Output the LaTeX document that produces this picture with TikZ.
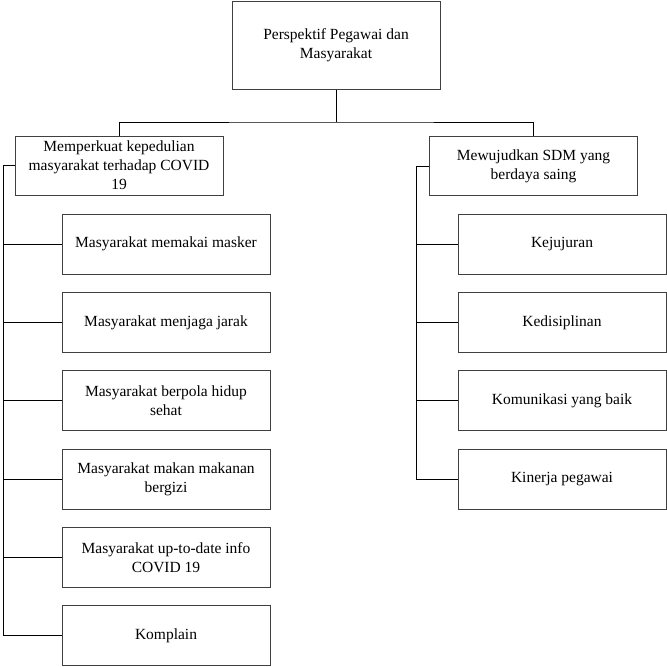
\documentclass[tikz,border=0pt]{standalone}
\usepackage{fontspec}
\setmainfont{Liberation Serif}
\usetikzlibrary{positioning}

\tikzset{
    boxnode/.style={draw=black!75, line width=1pt, inner sep=2pt, align=center,
        font=\fontsize{15.5}{19}\selectfont},
    topbox/.style={boxnode, minimum width=208pt, minimum height=88pt},
    headbox/.style={boxnode, minimum width=208pt, minimum height=59pt},
    leafbox/.style={boxnode, minimum width=208pt, minimum height=60pt},
    link/.style={draw=black, line width=0.8pt}
}

\begin{document}
\begin{tikzpicture}[x=1pt,y=-1pt]
    \useasboundingbox (0,0) rectangle (667,667);
    \begin{scope}
        % Root
        \node[topbox] (root) at (336,45) {Perspektif Pegawai dan\\Masyarakat};

        % Two branches
        \node[headbox] (care) at (119,165.5) {Memperkuat kepedulian\\masyarakat terhadap COVID\\19};
        \node[headbox] (sdm) at (533.5,166) {Mewujudkan SDM yang\\berdaya saing};

        % Left leaves
        \foreach \n/\y/\t in {m1/244/{Masyarakat memakai masker},
                              m2/322.5/{Masyarakat menjaga jarak},
                              m3/400.5/{Masyarakat berpola hidup\\sehat},
                              m4/479/{Masyarakat makan makanan\\bergizi},
                              m5/557.5/{Masyarakat up-to-date info\\COVID 19},
                              m6/635.5/{Komplain}} {
            \node[leafbox] (\n) at (166,\y) {\t};
        }

        % Right leaves
        \foreach \n/\y/\t in {s1/244/{Kejujuran},
                              s2/322.5/{Kedisiplinan},
                              s3/400.5/{Komunikasi yang baik},
                              s4/479/{Kinerja pegawai}} {
            \node[leafbox] (\n) at (562,\y) {\t};
        }

        % Connectors from root
        \coordinate (bar) at (336,122);
        \coordinate (spineL) at (3,0);
        \coordinate (spineR) at (416,0);
        \draw[link] (root.south) -- (bar);
        \draw[link] (care.north) |- (bar) -| (sdm.north);

        % Left spine
        \draw[link] (care.west) -| (spineL |- m6.west) -- (m6.west);
        \foreach \n in {m1,m2,m3,m4,m5} {
            \draw[link] (\n.west) -- (spineL |- \n.west);
        }

        % Right spine
        \draw[link] (sdm.west) -| (spineR |- s4.west) -- (s4.west);
        \foreach \n in {s1,s2,s3} {
            \draw[link] (\n.west) -- (spineR |- \n.west);
        }
    \end{scope}
\end{tikzpicture}
\end{document}
